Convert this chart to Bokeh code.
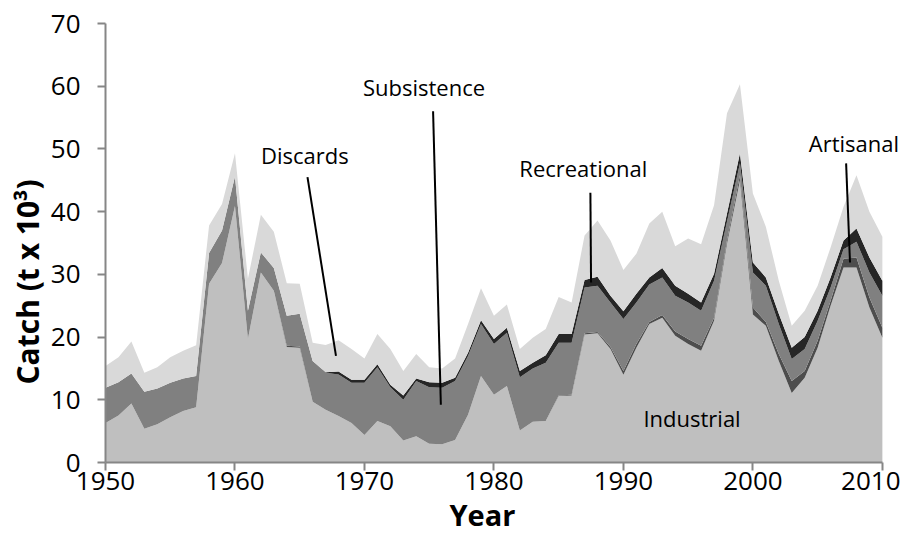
from bokeh.plotting import figure
from bokeh.models import ColumnDataSource, Range1d, SingleIntervalTicker, Label, Title
from bokeh.embed import file_html
from bokeh.resources import INLINE

years = list(range(1950, 2011))
industrial = [6.3, 7.5, 9.4, 5.4, 6.1, 7.2, 8.2, 8.8, 28.5, 31.8,
              40.9, 19.7, 30.3, 27.4, 18.4, 18.3, 9.7, 8.4, 7.4, 6.3,
              4.4, 6.6, 5.8, 3.5, 4.2, 3.0, 2.9, 3.6, 7.6, 13.8,
              10.8, 12.2, 5.1, 6.5, 6.6, 10.6, 10.7, 20.4, 20.6, 18.1,
              14.0, 18.3, 22.1, 23.1, 20.2, 18.9, 17.8, 22.6, 34.9, 45.0,
              23.6, 21.8, 16.2, 11.1, 13.5, 18.3, 25.0, 31.1, 31.1, 24.7,
              19.9]
artisanal = [0, 0, 0, 0, 0, 0, 0, 0, 0, 0,
             0, 0, 0, 0, 0.2, 0.2, 0, 0, 0, 0,
             0, 0, 0, 0, 0, 0, 0, 0, 0, 0,
             0, 0, 0, 0, 0, 0.1, 0.1, 0.2, 0.2, 0.3,
             0.6, 0.6, 0.3, 0.4, 0.7, 0.8, 0.8, 0.5, 0.5, 0.8,
             1.1, 0.6, 1.1, 1.9, 1.1, 1.1, 0.8, 1.4, 1.6, 1.6,
             1.6]
subsistence = [5.6, 5.3, 4.8, 5.9, 5.7, 5.5, 5.2, 5.0, 4.9, 5.2,
               4.7, 4.5, 3.2, 3.6, 4.8, 5.2, 6.5, 5.9, 6.65, 6.4,
               8.3, 8.6, 6.2, 6.5, 8.8, 9.0, 9.0, 9.4, 9.4, 8.3,
               8.1, 8.5, 8.5, 8.5, 9.3, 8.4, 8.3, 7.3, 7.4, 7.1,
               8.3, 6.6, 6.0, 6.0, 5.7, 5.8, 5.6, 5.9, 3.0, 1.9,
               5.6, 5.8, 4.8, 3.5, 3.5, 3.2, 2.1, 1.5, 2.5, 4.0,
               5.1]
recreational = [0, 0, 0, 0, 0, 0, 0, 0, 0, 0,
                0, 0, 0, 0, 0, 0, 0, 0.1, 0.45, 0.5,
                0.5, 0.45, 0.4, 0.7, 0.4, 0.8, 0.8, 0.5, 0.5, 0.6,
                0.8, 0.8, 1.0, 0.9, 1.2, 1.4, 1.4, 1.2, 1.4, 1.1,
                1.2, 1.4, 1.1, 1.5, 1.6, 1.4, 1.3, 1.1, 1.3, 1.6,
                1.6, 1.3, 1.6, 1.8, 1.9, 1.6, 1.6, 1.4, 2.1, 2.4,
                2.4]
discards = [3.5, 4.0, 5.1, 3.0, 3.4, 4.1, 4.4, 4.9, 4.4, 4.2,
            3.7, 5.1, 6.0, 5.8, 5.2, 4.8, 2.9, 4.35, 5.0, 4.9,
            3.4, 4.85, 5.7, 3.9, 3.9, 2.4, 2.3, 3.1, 4.6, 5.1,
            3.7, 3.7, 3.5, 4.0, 4.2, 5.9, 5.0, 7.1, 9.0, 8.8,
            6.6, 6.4, 8.6, 9.0, 6.3, 8.8, 9.3, 10.9, 16.0, 11.0,
            11.0, 8.1, 5.3, 3.5, 4.2, 4.0, 4.8, 5.4, 8.5, 7.3,
            7.0]

sectors = ["Industrial", "Artisanal", "Subsistence", "Recreational", "Discards"]
colors = ["#bfbfbf", "#4d4d4d", "#808080", "#262626", "#d9d9d9"]

# annotation labels and their pointer lines
ann_text = ["Discards", "Subsistence", "Recreational", "Artisanal", "Industrial"]
ann_x = [1965.4, 1974.6, 1986.9, 2007.8, 1995.3]
ann_y = [49.0, 59.8, 47.0, 50.9, 7.05]
line_x0 = [1965.6, 1975.3, 1987.45, 2007.2]
line_y0 = [45.5, 56.0, 43.0, 47.7]
line_x1 = [1967.8, 1975.9, 1987.5, 2007.5]
line_y1 = [17.0, 9.2, 28.7, 31.9]

source = ColumnDataSource(dict(year=years, Industrial=industrial, Artisanal=artisanal,
                               Subsistence=subsistence, Recreational=recreational,
                               Discards=discards))

p = figure(width=900, height=534, output_backend="svg", toolbar_location=None,
           x_range=Range1d(1950, 2011.4), y_range=Range1d(0, 70),
           min_border_left=105, min_border_right=0, min_border_top=23, min_border_bottom=72)
p.varea_stack(stackers=sectors, x="year", color=colors, source=source)

p.segment(x0=line_x0, y0=line_y0, x1=line_x1, y1=line_y1, line_color="black", line_width=2)

for t, x, y in zip(ann_text, ann_x, ann_y):
    p.add_layout(Label(x=x, y=y, text=t, text_align="center", text_baseline="middle",
                       text_font="Open Sans", text_font_size="22px", text_color="black"))

p.xgrid.visible = False
p.ygrid.visible = False
p.outline_line_color = None
p.background_fill_color = "white"
p.border_fill_color = "white"

for ax in (p.xaxis[0], p.yaxis[0]):
    ax.axis_line_color = "#868686"
    ax.axis_line_width = 2
    ax.major_tick_line_color = "#868686"
    ax.major_tick_line_width = 2
    ax.major_tick_in = 0
    ax.major_tick_out = 8
    ax.minor_tick_line_color = None
    ax.major_label_text_font = "Open Sans"
    ax.major_label_text_font_size = "26px"
    ax.major_label_text_color = "black"

p.xaxis.bounds = (1950, 2010)
p.xaxis.ticker = SingleIntervalTicker(interval=10, num_minor_ticks=0)
p.yaxis.ticker = SingleIntervalTicker(interval=10, num_minor_ticks=0)
p.xaxis.major_label_standoff = 1
p.yaxis.major_label_standoff = 17

xtitle = Title(text="Year", align="left", offset=344, standoff=0,
               text_font="Open Sans", text_font_style="bold", text_font_size="29px",
               text_color="black")
ytitle = Title(text="Catch (t x 10³)", align="left", offset=78, standoff=0,
               text_font="Open Sans", text_font_style="bold", text_font_size="30px",
               text_color="black")
p.add_layout(xtitle, "below")
p.add_layout(ytitle, "left")

open("out.html", "w").write(file_html(p, INLINE))
